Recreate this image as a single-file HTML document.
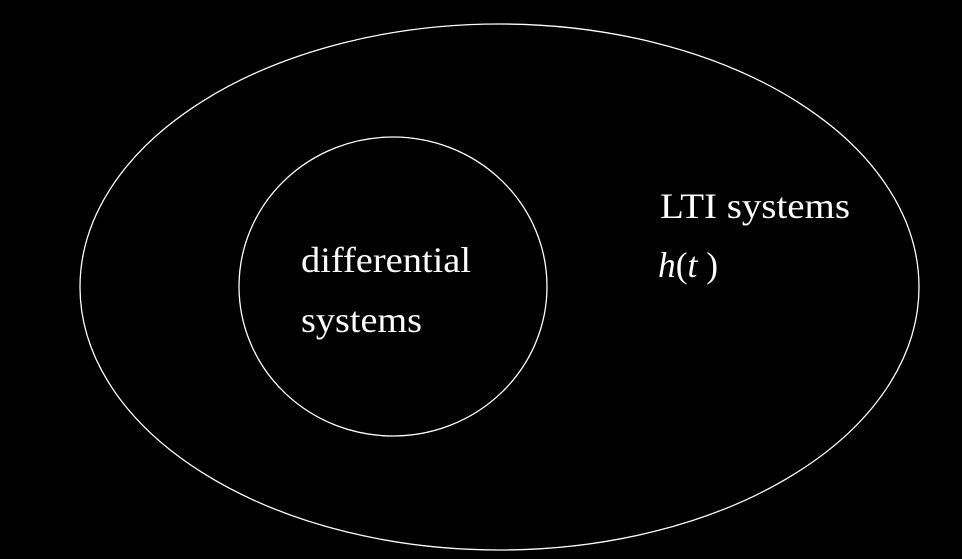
<!DOCTYPE html>
<html><head><style>
html,body{margin:0;padding:0;background:#000;width:962px;height:559px;overflow:hidden}
svg{display:block}
text{font-family:"Liberation Serif",serif;fill:#fff;font-size:36px}
</style></head><body>
<svg width="962" height="559" viewBox="0 0 962 559">
<rect width="962" height="559" fill="#000"/>
<ellipse cx="499.5" cy="287" rx="419.5" ry="263" fill="none" stroke="#fff" stroke-width="1.3"/>
<ellipse cx="393" cy="286.5" rx="154" ry="149.5" fill="none" stroke="#fff" stroke-width="1.3"/>
<text x="301" y="272" textLength="170" lengthAdjust="spacingAndGlyphs">differential</text>
<text x="301" y="332" textLength="121" lengthAdjust="spacingAndGlyphs">systems</text>
<text x="660" y="218" textLength="190" lengthAdjust="spacingAndGlyphs">LTI systems</text>
<text x="658" y="277" textLength="60" lengthAdjust="spacingAndGlyphs"><tspan font-style="italic">h</tspan>(<tspan font-style="italic">t</tspan> )</text>
</svg>
</body></html>
